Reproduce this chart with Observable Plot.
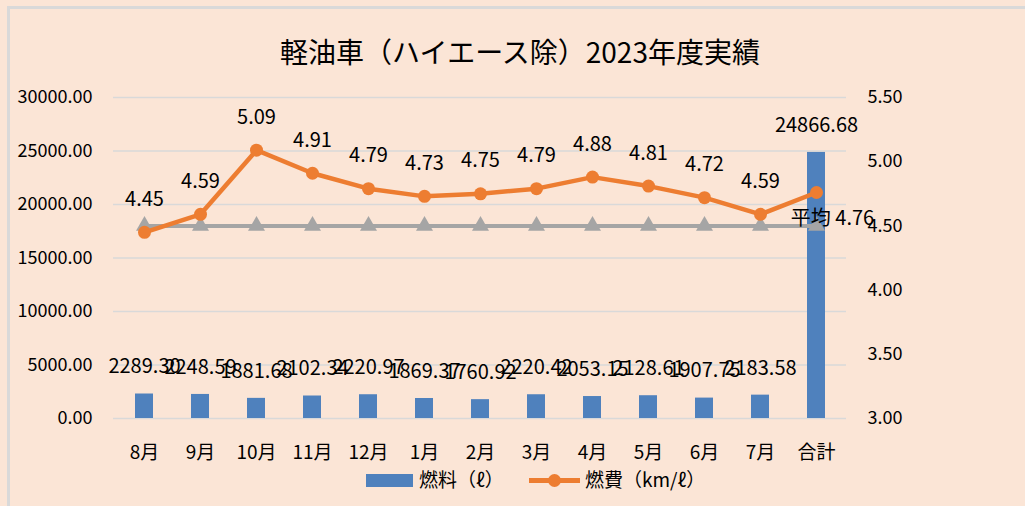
<!DOCTYPE html>
<html>
<head>
<meta charset="utf-8">
<script src="https://cdn.jsdelivr.net/npm/d3@7"></script>
<script src="https://cdn.jsdelivr.net/npm/@observablehq/plot@0.6"></script>
<style>
  html, body { margin: 0; padding: 0; background: #FBE5D6; }
  #wrap { position: relative; width: 1025px; height: 506px; overflow: hidden; background: #FBE5D6;
          font-family: "Noto Sans CJK JP", "Noto Sans", sans-serif; color: #000; }
  #bl { position: absolute; left: 7px; top: 6px; width: 3px; height: 520px; background: #D9D9D9; }
  #bt { position: absolute; left: 7px; top: 6px; width: 1040px; height: 3px; background: #D9D9D9; }
  #title { position: absolute; left: 0; top: 31px; width: 1040px; text-align: center; font-size: 28px; line-height: 40px; }
  #chart { position: absolute; left: 0; top: 80px; }
  #legend { position: absolute; left: 0; top: 468px; width: 1025px; height: 26px; font-size: 19px; }
  .sw { position: absolute; }
</style>
</head>
<body>
<div id="wrap">
  <div id="bl"></div><div id="bt"></div>
  <div id="title"></div>
  <div id="chart"></div>
  <div id="legend"></div>
</div>
<script>
const titleText = "軽油車（ハイエース除）2023年度実績";
const categories = ["8月","9月","10月","11月","12月","1月","2月","3月","4月","5月","6月","7月","合計"];
const fuel = [2289.30, 2248.59, 1881.68, 2102.34, 2220.97, 1869.37, 1760.92, 2220.42, 2053.15, 2128.61, 1907.75, 2183.58, 24866.68];
const efficiency = [4.45, 4.59, 5.09, 4.91, 4.79, 4.73, 4.75, 4.79, 4.88, 4.81, 4.72, 4.59, 4.76];
const target = [4.50, 4.50, 4.50, 4.50, 4.50, 4.50, 4.50, 4.50, 4.50, 4.50, 4.50, 4.50, 4.50];
const leftTicks = [0, 5000, 10000, 15000, 20000, 25000, 30000];
const rightTicks = [3.00, 3.50, 4.00, 4.50, 5.00, 5.50];
const avgPrefix = "平均";
const legendFuel = "燃料（ℓ）";
const legendEff = "燃費（km/ℓ）";

const blue = "#4F81BD", orange = "#ED7D31", gray = "#A5A5A5";
// right axis (3.0–5.5) mapped onto left axis (0–30000)
const rMin = 3.0, rMax = 5.5, lMax = 30000;
const toLeft = v => (v - rMin) / (rMax - rMin) * lMax;

document.getElementById("title").textContent = titleText;

const rows = categories.map((c, i) => ({
  cat: c, fuel: fuel[i], eff: efficiency[i], effY: toLeft(efficiency[i]),
  tgtY: toLeft(target[i]), last: i === categories.length - 1
}));
const fmt = d3.format(".2f");

const chart = Plot.plot({
  width: 1025,
  height: 386,
  marginLeft: 113,
  marginRight: 179,
  marginTop: 17,
  marginBottom: 48,
  style: { background: "transparent", fontFamily: "'Noto Sans CJK JP', 'Noto Sans', sans-serif", fontSize: "18px", color: "#000" },
  x: { domain: categories, padding: 0, label: null },
  y: { domain: [0, lMax], label: null },
  marks: [
    Plot.gridY(leftTicks, { stroke: "#D9D9D9", strokeOpacity: 1, strokeWidth: 1.5 }),
    Plot.axisY(leftTicks, { anchor: "left", tickSize: 0, tickPadding: 21, tickFormat: fmt, label: null, fontSize: 18 }),
    Plot.axisY(rightTicks.map(toLeft), { anchor: "right", tickSize: 0, tickPadding: 21, tickFormat: (d, i) => fmt(rightTicks[i]), label: null, fontSize: 18 }),
    Plot.axisX({ tickSize: 0, tickPadding: 27, label: null, fontSize: 19 }),
    Plot.barY(rows, { x: "cat", y: "fuel", fill: blue, insetLeft: 19, insetRight: 19 }),
    Plot.text(rows, { x: "cat", y: "fuel", text: d => fmt(d.fuel), dy: -27, fontSize: 20, fill: "#000" }),
    Plot.lineY(rows, { x: "cat", y: "tgtY", stroke: gray, strokeWidth: 4 }),
    Plot.dot(rows, { x: "cat", y: "tgtY", symbol: "triangle", r: 6.3, fill: gray, stroke: "none" }),
    Plot.lineY(rows, { x: "cat", y: "effY", stroke: orange, strokeWidth: 4.5 }),
    Plot.dot(rows, { x: "cat", y: "effY", r: 6.5, fill: orange, stroke: "none" }),
    Plot.text(rows.filter(d => !d.last), { x: "cat", y: "effY", text: d => fmt(d.eff), dy: -33, fontSize: 20, fill: "#000" }),
    Plot.text(rows.filter(d => d.last), { x: "cat", y: "effY", text: d => avgPrefix + " " + fmt(d.eff), dx: 16, dy: 26, fontSize: 20, fill: "#000" })
  ]
});
document.getElementById("chart").appendChild(chart);

// legend
const lg = document.getElementById("legend");
lg.innerHTML = `
  <div class="sw" style="left:366px;top:6px;width:47px;height:13px;background:${blue}"></div>
  <div class="sw" style="left:419px;top:-2px;line-height:26px;">${legendFuel}</div>
  <div class="sw" style="left:529px;top:10px;width:51px;height:5px;background:${orange}"></div>
  <div class="sw" style="left:548px;top:6px;width:13px;height:13px;border-radius:50%;background:${orange}"></div>
  <div class="sw" style="left:585px;top:-2px;line-height:26px;">${legendEff}</div>
`;
</script>
</body>
</html>
